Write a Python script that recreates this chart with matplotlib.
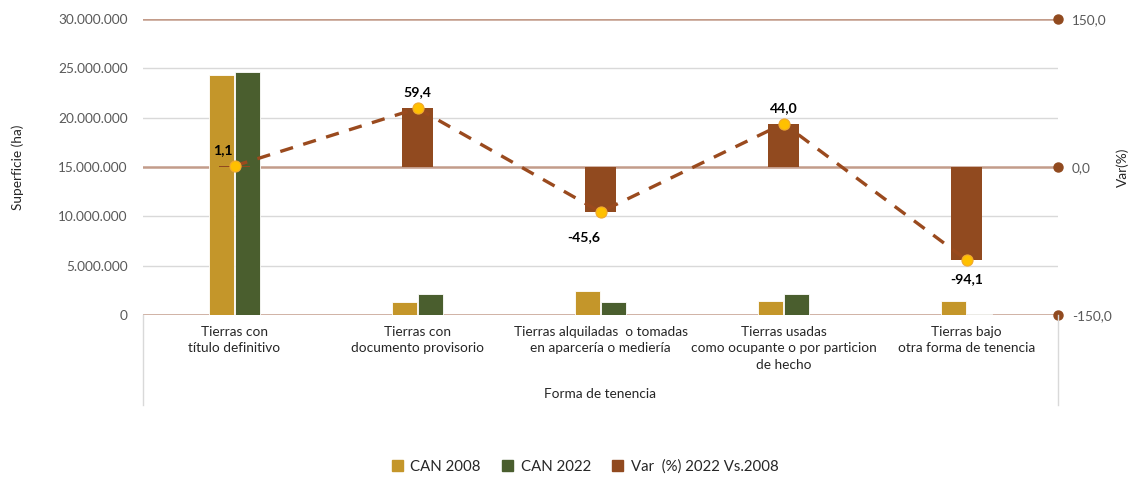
import matplotlib
matplotlib.use("Agg")
import matplotlib.pyplot as plt
from matplotlib.patches import Patch
from matplotlib.lines import Line2D
from matplotlib.ticker import FuncFormatter
import numpy as np

categories = ["Tierras con\ntítulo definitivo",
              "Tierras con\ndocumento provisorio",
              "Tierras alquiladas  o tomadas\nen aparcería o mediería",
              "Tierras usadas\ncomo ocupante o por particion\nde hecho",
              "Tierras bajo\notra forma de tenencia"]
can2008 = [24300000, 1310000, 2480000, 1450000, 1450000]
can2022 = [24580000, 2090000, 1350000, 2090000, 86000]
var_pct = [1.1, 59.4, -45.6, 44.0, -94.1]
var_labels = ["1,1", "59,4", "-45,6", "44,0", "-94,1"]
left_ticks = [0, 5000000, 10000000, 15000000, 20000000, 25000000, 30000000]
right_ticks = [-150, 0, 150]

C_GOLD = "#C4962A"
C_GREEN = "#4A5E2E"
C_BROWN = "#914A1F"
C_LINE = "#9A4A1E"
C_MARK = "#FFC000"
C_GRID = "#D9D9D9"
C_BGRID = "#C39C8A"
C_TXT = "#595959"

plt.rcParams['font.family'] = ['Lato', 'DejaVu Sans']

fig = plt.figure(figsize=(11.35, 4.78), dpi=100)
ax = fig.add_axes([143/1135, 163/478, (1058-143)/1135, (315-19)/478])
x = np.arange(len(categories))
ax.set_xlim(-0.5, len(categories) - 0.5)
ax.set_ylim(0, 30000000)

bw = 0.137
ax.bar(x - 0.072, can2008, width=bw, color=C_GOLD, edgecolor="white", linewidth=0.6, zorder=3)
ax.bar(x + 0.072, can2022, width=bw, color=C_GREEN, edgecolor="white", linewidth=0.6, zorder=3)

for v in [5000000, 10000000, 20000000, 25000000]:
    ax.axhline(v, color=C_GRID, lw=1, zorder=1)
for v in [0, 15000000, 30000000]:
    ax.axhline(v, color=C_BGRID, lw=1.8, zorder=2)

ax.set_yticks(left_ticks)
ax.yaxis.set_major_formatter(FuncFormatter(lambda v, p: f"{int(v):,}".replace(",", ".")))
ax.tick_params(axis='y', length=0, pad=11, labelsize=9.8, labelcolor=C_TXT)
ax.set_xticks(x)
ax.set_xticklabels(categories, fontsize=9.8, color="#262626", linespacing=1.42)
ax.tick_params(axis='x', length=0, pad=8)
for s in ax.spines.values():
    s.set_visible(False)
ax.set_ylabel("Superficie (ha)", fontsize=9.8, color="#262626")
ax.yaxis.set_label_coords(-0.130, 0.5)

ax2 = ax.twinx()
ax2.set_ylim(-150, 150)
ax2.patch.set_visible(False)
for s in ax2.spines.values():
    s.set_visible(False)
ax2.bar(x, var_pct, width=0.165, color=C_BROWN, linewidth=0, zorder=3)
ax2.plot(x, var_pct, color=C_LINE, lw=2.4, dashes=(4, 3.2), zorder=4)
ax2.plot(x, var_pct, 'o', ms=8, mfc=C_MARK, mec="#F0A830", mew=0.8, zorder=5)
ax2.plot([len(categories) - 0.5] * 3, right_ticks, 'o', ms=6.5, color=C_BROWN, clip_on=False, zorder=6)
ax2.set_yticks(right_ticks)
ax2.yaxis.set_major_formatter(FuncFormatter(lambda v, p: f"{v:.1f}".replace(".", ",")))
ax2.tick_params(axis='y', length=0, pad=10, labelsize=9.8, labelcolor=C_TXT)
ax2.set_ylabel("Var(%)", fontsize=9.8, color="#262626", rotation=90)
ax2.yaxis.set_label_coords(1.064, 0.5)

offsets = [(-12, 16), (0, 16), (-17, -25), (0, 16), (0, -19)]
for xi, v, lab, off in zip(x, var_pct, var_labels, offsets):
    ax2.annotate(lab, (xi, v), xytext=off, textcoords="offset pixels",
                 ha="center", va="center", fontsize=10.2, fontweight="bold", color="black", zorder=7)

# category axis box lines
fig.add_artist(Line2D([143/1135, 143/1135], [1 - 315/478, 1 - 405/478], color=C_GRID, lw=1))
fig.add_artist(Line2D([1058/1135, 1058/1135], [1 - 315/478, 1 - 405/478], color=C_GRID, lw=1))
fig.text(600/1135, 1 - 394/478, "Forma de tenencia", ha="center", va="center", fontsize=9.8, color="#262626")

handles = [Patch(color=C_GOLD), Patch(color=C_GREEN), Patch(color=C_BROWN)]
labels = ["CAN 2008", "CAN 2022", "Var  (%) 2022 Vs.2008"]
fig.legend(handles, labels, loc="center", bbox_to_anchor=(585/1135, 1 - 467/478), ncol=3,
           frameon=False, fontsize=10.8, handlelength=0.75, handleheight=0.75,
           handletextpad=0.5, columnspacing=1.4, labelcolor="#262626")

fig.savefig("out.png", dpi=100)
